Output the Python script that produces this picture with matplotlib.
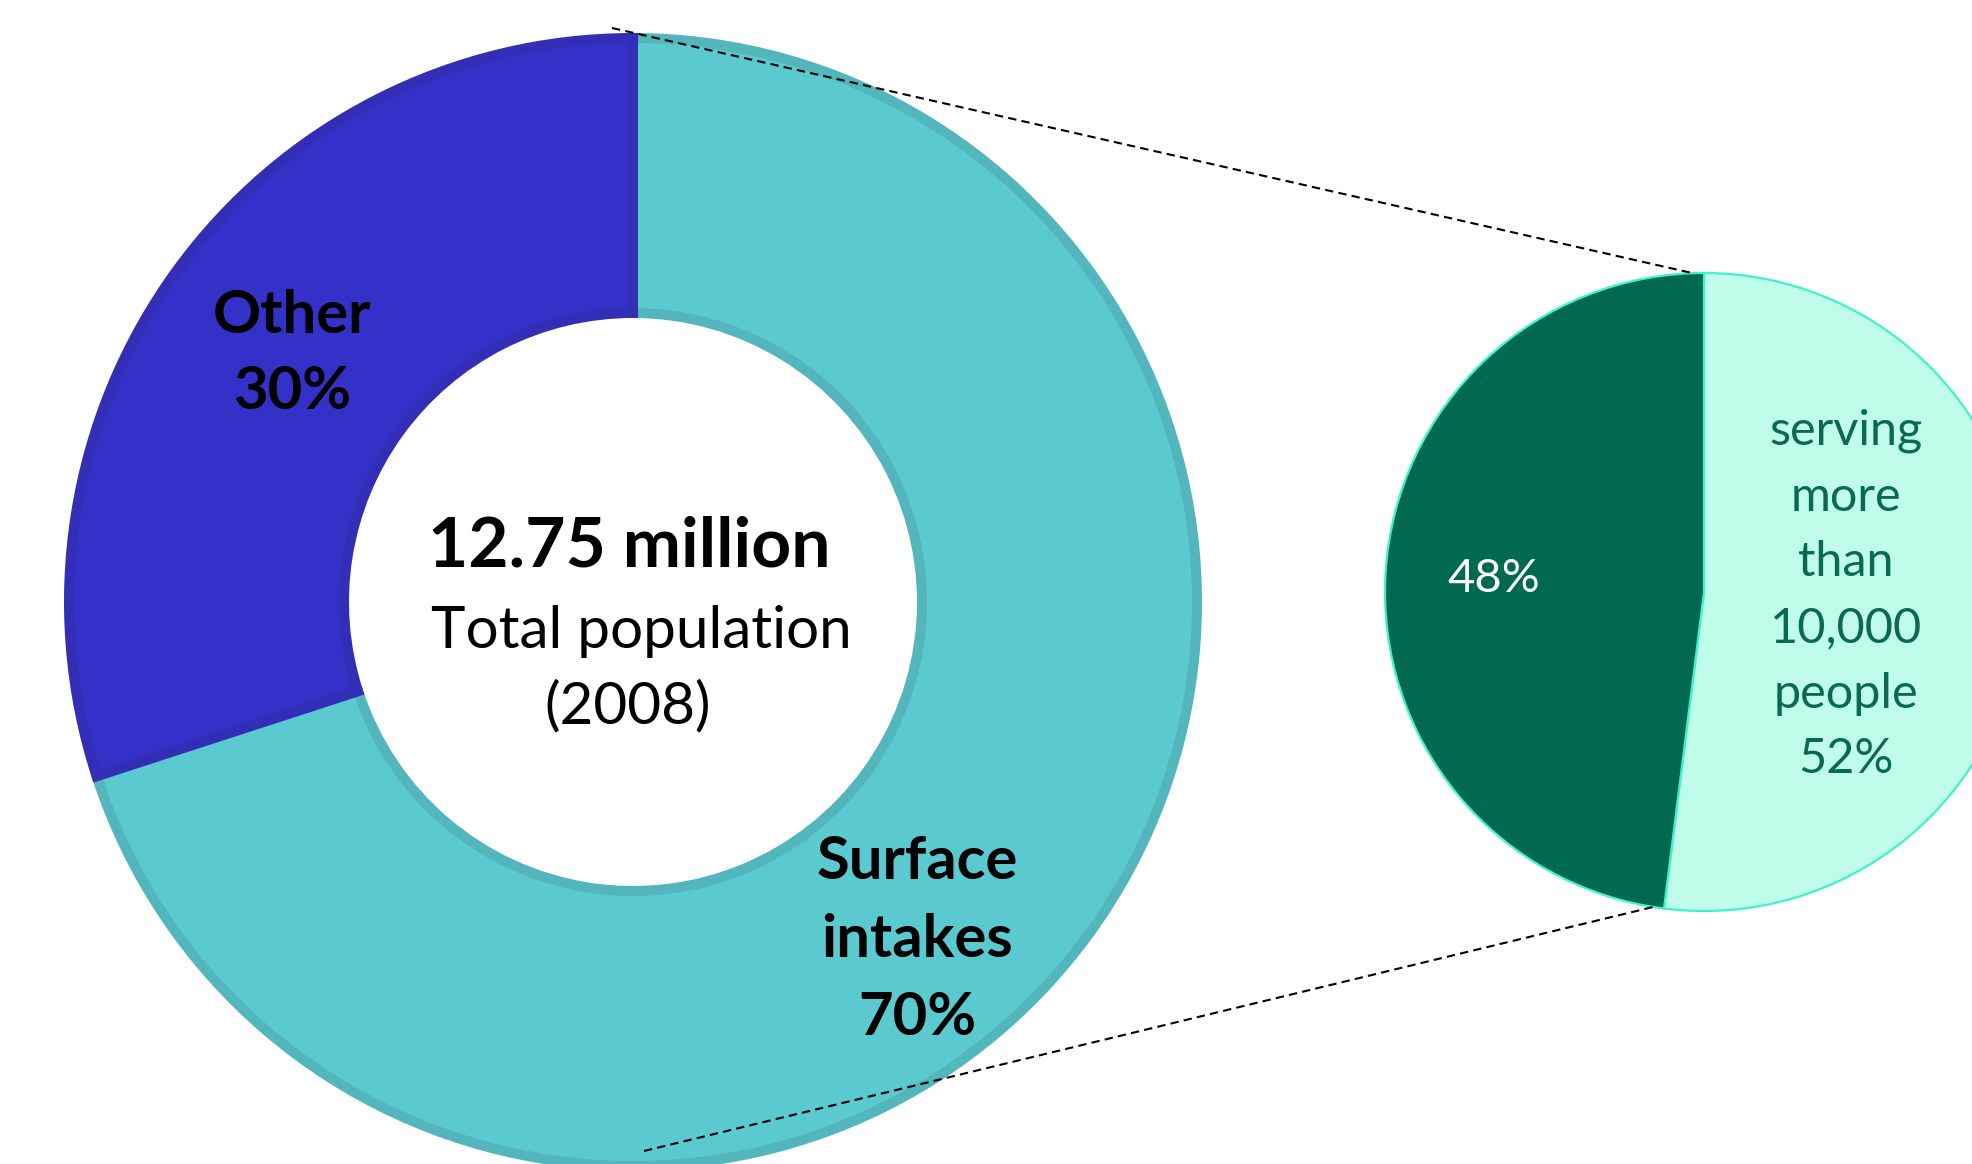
import matplotlib.pyplot as plt

plt.rcParams['font.family'] = ['Lato', 'DejaVu Sans']

# water source split of the total population
source_labels = ['Surface\nintakes', 'Other']
source_shares = [70, 30]

# breakdown of surface intakes by system size
size_labels = ['serving\nmore\nthan\n10,000\npeople', '']
size_shares = [52, 48]

total_value = '12.75 million'
total_caption = 'Total population'
total_year = '(2008)'

W, H = 1972, 1164
fig = plt.figure(figsize=(W / 100, H / 100), dpi=100)
ax = fig.add_axes([0, 0, 1, 1])

# big donut
donut_c = (633, H - 602)
donut_r = 569
edge_px = 10
wedges, _ = ax.pie(source_shares, center=donut_c, radius=donut_r - edge_px / 2,
                   startangle=90, counterclock=False,
                   colors=['#5BC9D0', '#3431C8'],
                   wedgeprops=dict(width=donut_r - 284 - edge_px, linewidth=edge_px * 0.72))
wedges[0].set_edgecolor('#52B6BC')
wedges[1].set_edgecolor('#322FB6')

# small pie on the right
pie_c = (1704, H - 592)
pie_r = 319
ax.pie(size_shares, center=pie_c, radius=pie_r, startangle=90, counterclock=False,
       colors=['#BFFCEA', '#00694F'],
       wedgeprops=dict(edgecolor='#3EF2CB', linewidth=1.6))

# connector lines between the two charts
ax.plot([612, 1692], [H - 28, H - 273], color='black', lw=1.5, ls=(0, (4, 2.5)))
ax.plot([644, 1653], [H - 1151, H - 907], color='black', lw=1.5, ls=(0, (4, 2.5)))

# centre text
ax.text(629, H - 547, total_value, fontsize=50, fontweight='bold', ha='center', va='center')
ax.text(641, H - 631, total_caption, fontsize=42, ha='center', va='center')
ax.text(628, H - 707, total_year, fontsize=42, ha='center', va='center')

# donut labels
ax.text(917, H - 940, f'{source_labels[0]}\n{source_shares[0]}%', fontsize=43,
        fontweight='bold', ha='center', va='center', linespacing=1.55)
ax.text(292, H - 354, f'{source_labels[1]}\n{source_shares[1]}%', fontsize=43,
        fontweight='bold', ha='center', va='center', linespacing=1.52)

# small pie labels
ax.text(1846, H - 595, f'{size_labels[0]}\n{size_shares[0]}%', fontsize=35,
        color='#0A6A50', ha='center', va='center', linespacing=1.6)
ax.text(1494, H - 579, f'{size_shares[1]}%', fontsize=34, color='white',
        ha='center', va='center')

ax.set_xlim(0, W)
ax.set_ylim(0, H)
ax.set_aspect('equal')
ax.axis('off')

fig.savefig('out.png', dpi=100)
